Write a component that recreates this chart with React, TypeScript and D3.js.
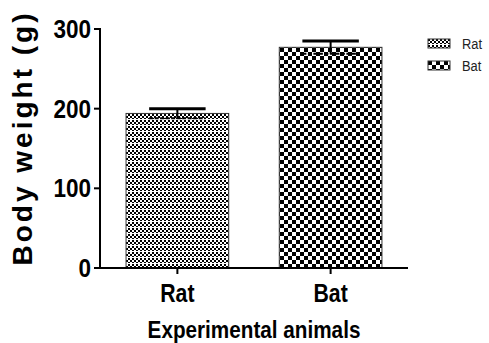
import React from 'react';
import * as d3 from 'd3';

const categories = ['Rat', 'Bat'];
const means = [194, 277];
const sems = [6, 8];
const yTicks = [0, 100, 200, 300];

const W = 489;
const H = 343;
const FONT = '"Liberation Sans", Arial, sans-serif';

const App = () => {
  const x = d3.scaleBand<string>()
    .domain(categories)
    .range([100, 408])
    .paddingInner(0.33)
    .paddingOuter(0.17);

  const y = d3.scaleLinear().domain([0, 300]).range([268, 29]);

  const patternIds = ['patRat', 'patBat'];
  const capW = x.bandwidth() * 0.55;

  return (
    <div style={{ position: 'absolute', left: 0, top: 0 }}>
      <svg width={W} height={H} style={{ display: 'block', background: '#fff' }}>
        <defs>
          {/* fine dotted checker for Rat */}
          <pattern id="patRat" width={4} height={6} patternUnits="userSpaceOnUse">
            <rect width={4} height={6} fill="#fff" />
            <rect x={0} y={0} width={2} height={2} fill="#000" />
            <rect x={2} y={2} width={2} height={2} fill="#000" />
            <rect x={0} y={4} width={2} height={1} fill="#000" />
          </pattern>
          {/* coarse checker for Bat */}
          <pattern id="patBat" width={8} height={8} patternUnits="userSpaceOnUse">
            <rect width={8} height={8} fill="#fff" />
            <rect x={0} y={0} width={4} height={4} fill="#000" />
            <rect x={4} y={4} width={4} height={4} fill="#000" />
          </pattern>
        </defs>

        {/* bars */}
        {categories.map((c, i) => (
          <rect
            key={c}
            x={x(c)}
            y={y(means[i])}
            width={x.bandwidth()}
            height={y(0) - y(means[i])}
            fill={`url(#${patternIds[i]})`}
            stroke="#333"
            strokeWidth={1}
          />
        ))}

        {/* error bars */}
        {categories.map((c, i) => {
          const cx = (x(c) as number) + x.bandwidth() / 2;
          const top = y(means[i] + sems[i]);
          const bot = y(means[i] - sems[i]);
          return (
            <g key={c} stroke="#000">
              <line x1={cx} x2={cx} y1={top} y2={bot} strokeWidth={2} />
              <line x1={cx - capW / 2} x2={cx + capW / 2} y1={top} y2={top} strokeWidth={3} />
              <line x1={cx - capW / 2} x2={cx + capW / 2} y1={bot} y2={bot} strokeWidth={2} strokeDasharray="4,1.5" />
            </g>
          );
        })}

        {/* y axis */}
        <line x1={100} x2={100} y1={y(300) - 1} y2={y(0) + 1} stroke="#000" strokeWidth={2} />
        {yTicks.map(t => (
          <g key={t}>
            <line x1={94} x2={100} y1={y(t)} y2={y(t)} stroke="#000" strokeWidth={2} />
            <text
              transform={`translate(91,${y(t) + 9}) scale(0.9,1)`}
              textAnchor="end"
              fontFamily={FONT}
              fontWeight="bold"
              fontSize={25}
            >
              {t}
            </text>
          </g>
        ))}

        {/* x axis */}
        <line x1={99} x2={408} y1={y(0)} y2={y(0)} stroke="#000" strokeWidth={2} />
        {categories.map(c => {
          const cx = (x(c) as number) + x.bandwidth() / 2;
          return (
            <g key={c}>
              <line x1={cx} x2={cx} y1={y(0)} y2={y(0) + 6} stroke="#000" strokeWidth={2} />
              <text
                transform={`translate(${cx},302) scale(0.85,1)`}
                textAnchor="middle"
                fontFamily={FONT}
                fontWeight="bold"
                fontSize={25}
              >
                {c}
              </text>
            </g>
          );
        })}

        {/* axis titles */}
        <text
          transform="translate(254,338) scale(0.9,1)"
          textAnchor="middle"
          fontFamily={FONT}
          fontWeight="bold"
          fontSize={23}
        >
          Experimental animals
        </text>
        <text
          transform="translate(32,138) rotate(-90)"
          textAnchor="middle"
          fontFamily={FONT}
          fontWeight="bold"
          fontSize={28}
          letterSpacing={3}
        >
          Body weight (g)
        </text>

        {/* legend */}
        {categories.map((c, i) => (
          <g key={c} transform={`translate(428,${39 + i * 22})`}>
            <rect width={22} height={9} fill={`url(#${patternIds[i]})`} stroke="#333" strokeWidth={1} />
            <text transform="translate(34,10) scale(0.92,1)" fontFamily={FONT} fontSize={14} fill="#222">
              {c}
            </text>
          </g>
        ))}
      </svg>
    </div>
  );
};

export default App;
